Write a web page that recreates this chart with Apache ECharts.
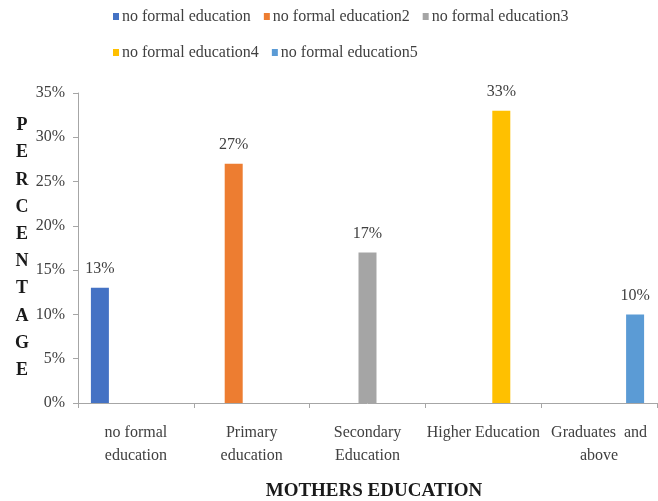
<!DOCTYPE html>
<html>
<head>
<meta charset="utf-8">
<style>
  html, body { margin: 0; padding: 0; background: #ffffff; }
  #chart { width: 658px; height: 501px; }
</style>
<script src="https://cdn.jsdelivr.net/npm/echarts@6/dist/echarts.min.js"></script>
</head>
<body>
<div id="chart"></div>
<script>
// Education level categories along the x axis
const categories = [
  'no formal\neducation',
  'Primary\neducation',
  'Secondary\nEducation',
  'Higher Education',
  'Graduates  and\nabove'
];
// One legend series per level; each one holds a value only in its own category
const seriesNames = [
  'no formal education',
  'no formal education2',
  'no formal education3',
  'no formal education4',
  'no formal education5'
];
// Share of mothers in each level, in percent
const values = [13, 27, 17, 33, 10];
const colors = ['#4472C4', '#ED7D31', '#A5A5A5', '#FFC000', '#5B9BD5'];
// y axis ticks: 0%..35% every 5
const yMin = 0, yMax = 35, yStep = 5;

const serif = '"Liberation Serif", "Times New Roman", serif';
const textColor = '#404040';
const axisColor = '#A6A6A6';

const series = seriesNames.map((name, i) => ({
  name: name,
  type: 'bar',
  barWidth: 18,
  barGap: '0%',
  itemStyle: { color: colors[i] },
  label: {
    show: true,
    position: 'top',
    distance: 11,
    fontFamily: serif,
    fontSize: 16,
    color: textColor,
    formatter: p => Math.round(p.value) + '%'
  },
  data: categories.map((c, j) => (j === i ? values[i] : null))
}));

const chart = echarts.init(document.getElementById('chart'), null, { renderer: 'canvas' });
chart.setOption({
  animation: false,
  backgroundColor: '#ffffff',
  color: colors,
  legend: {
    left: 108,
    top: 0,
    width: 480,
    icon: 'rect',
    itemWidth: 6,
    itemHeight: 7,
    itemGap: 13,
    textStyle: {
      fontFamily: serif,
      fontSize: 16,
      color: textColor,
      lineHeight: 23,
      padding: [0, 0, 0, -2]
    },
    data: seriesNames
  },
  grid: { left: 78, right: 1, top: 93, bottom: 98, containLabel: false, outerBoundsMode: 'none' },
  xAxis: {
    type: 'category',
    data: categories,
    name: 'MOTHERS EDUCATION',
    nameLocation: 'middle',
    nameGap: 79,
    nameTextStyle: {
      fontFamily: serif,
      fontSize: 19,
      fontWeight: 'bold',
      color: '#1a1a1a',
      padding: [0, 0, 0, 13]
    },
    axisLine: { lineStyle: { color: axisColor, width: 1 } },
    axisTick: { show: true, alignWithLabel: false, length: 5, lineStyle: { color: axisColor } },
    axisLabel: {
      interval: 0,
      margin: 18,
      fontFamily: serif,
      fontSize: 16,
      lineHeight: 23,
      color: textColor
    }
  },
  yAxis: {
    type: 'value',
    min: yMin,
    max: yMax,
    interval: yStep,
    name: 'PERCENTAGE'.split('').join('\n'),
    nameLocation: 'middle',
    nameRotate: 0,
    nameGap: 56,
    nameTextStyle: {
      fontFamily: serif,
      fontSize: 18,
      fontWeight: 'bold',
      color: '#1a1a1a',
      lineHeight: 27.2,
      align: 'center',
      verticalAlign: 'middle',
      padding: [10, 0, 0, 0]
    },
    axisLine: { show: true, lineStyle: { color: axisColor, width: 1 } },
    axisTick: { show: true, length: 5, lineStyle: { color: axisColor } },
    splitLine: { show: false },
    axisLabel: {
      margin: 13,
      fontFamily: serif,
      fontSize: 16,
      color: textColor,
      formatter: '{value}%'
    }
  },
  series: series
});
</script>
</body>
</html>
